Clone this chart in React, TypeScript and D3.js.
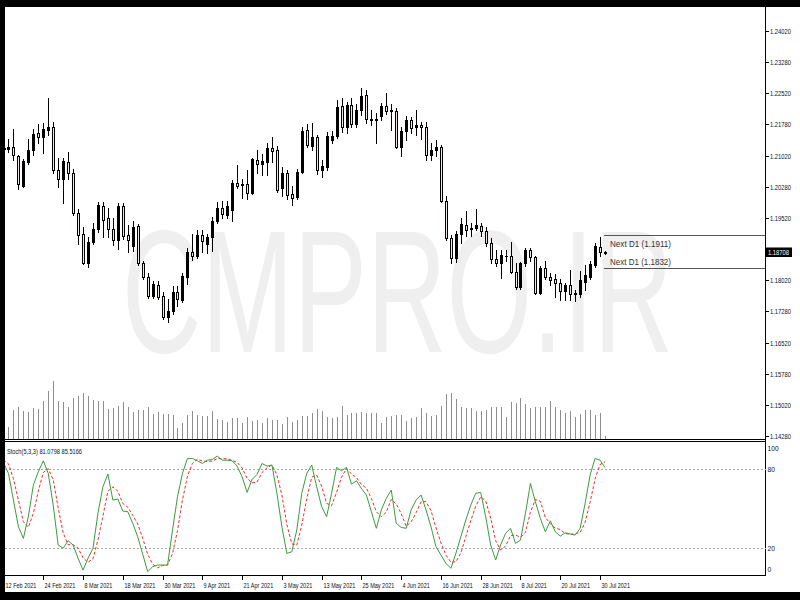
import React from 'react';
import * as d3 from 'd3';

const opens = [1.2121,1.2119,1.2124,1.2102,1.2030,1.2088,1.2116,1.2156,1.2146,1.2164,
1.2170,1.2068,1.2045,1.2088,1.2061,1.1965,1.1915,1.1843,1.1895,1.1927,
1.1981,1.1952,1.1925,1.1899,1.1980,1.1911,1.1885,1.1933,1.1845,1.1811,
1.1765,1.1790,1.1765,1.1715,1.1729,1.1774,1.1755,1.1811,1.1871,1.1862,
1.1911,1.1890,1.1906,1.1944,1.1976,1.1960,1.1971,1.2037,1.2032,1.2033,
1.2012,1.2092,1.2081,1.2088,1.2121,1.2116,1.2024,1.2061,1.2009,1.2002,
1.2064,1.2164,1.2126,1.2146,1.2068,1.2074,1.2140,1.2150,1.2222,1.2172,
1.2224,1.2178,1.2212,1.2248,1.2189,1.2189,1.2198,1.2222,1.2210,1.2210,
1.2124,1.2162,1.2188,1.2172,1.2175,1.2172,1.2104,1.2117,1.2124,1.1992,
1.1903,1.1855,1.1914,1.1935,1.1926,1.1929,1.1934,1.1921,1.1891,1.1853,
1.1845,1.1860,1.1861,1.1823,1.1786,1.1843,1.1875,1.1858,1.1773,1.1833,
1.1810,1.1805,1.1797,1.1777,1.1791,1.1770,1.1770,1.1799,1.1811,1.1840,
1.1883,1.1869];
const highs = [1.2150,1.2142,1.2166,1.2104,1.2093,1.2142,1.2166,1.2178,1.2180,1.2240,
1.2182,1.2096,1.2096,1.2112,1.2070,1.1975,1.1931,1.1907,1.1940,1.1990,
1.1990,1.1976,1.1952,1.1989,1.1989,1.1935,1.1945,1.1937,1.1850,1.1820,
1.1800,1.1800,1.1775,1.1758,1.1788,1.1788,1.1820,1.1880,1.1913,1.1924,
1.1924,1.1915,1.1954,1.1990,1.1994,1.1994,1.2044,1.2080,1.2046,1.2067,
1.2096,1.2116,1.2105,1.2133,1.2146,1.2125,1.2074,1.2067,1.2030,1.2069,
1.2172,1.2179,1.2181,1.2153,1.2092,1.2160,1.2162,1.2237,1.2240,1.2231,
1.2240,1.2226,1.2264,1.2260,1.2212,1.2204,1.2230,1.2252,1.2226,1.2216,
1.2170,1.2197,1.2194,1.2211,1.2182,1.2183,1.2132,1.2139,1.2128,1.2005,
1.1911,1.1920,1.1952,1.1970,1.1940,1.1975,1.1940,1.1930,1.1905,1.1875,
1.1875,1.1875,1.1895,1.1843,1.1847,1.1880,1.1880,1.1862,1.1838,1.1850,
1.1820,1.1817,1.1805,1.1795,1.1828,1.1780,1.1826,1.1840,1.1850,1.1892,
1.1907,1.1873];
const lows = [1.2093,1.2112,1.2092,1.2021,1.2028,1.2082,1.2104,1.2133,1.2108,1.2152,
1.2060,1.2026,1.1989,1.2045,1.1960,1.1890,1.1841,1.1834,1.1890,1.1918,
1.1907,1.1907,1.1887,1.1877,1.1901,1.1871,1.1873,1.1839,1.1805,1.1760,
1.1760,1.1757,1.1709,1.1702,1.1722,1.1740,1.1750,1.1793,1.1852,1.1855,
1.1870,1.1869,1.1874,1.1941,1.1953,1.1953,1.1945,1.2025,1.2000,1.1999,
1.2010,1.2060,1.2055,1.2055,1.2088,1.2014,1.2004,1.1999,1.1984,1.1999,
1.2060,1.2124,1.2115,1.2058,1.2052,1.2068,1.2132,1.2145,1.2160,1.2157,
1.2170,1.2170,1.2200,1.2180,1.2175,1.2132,1.2188,1.2203,1.2164,1.2120,
1.2102,1.2140,1.2156,1.2153,1.2142,1.2092,1.2092,1.2101,1.1990,1.1900,
1.1843,1.1846,1.1893,1.1910,1.1910,1.1923,1.1910,1.1885,1.1845,1.1837,
1.1807,1.1850,1.1820,1.1782,1.1781,1.1838,1.1850,1.1770,1.1770,1.1805,
1.1792,1.1763,1.1755,1.1755,1.1755,1.1752,1.1763,1.1780,1.1805,1.1835,
1.1860,1.1866];
const closes = [1.2119,1.2124,1.2104,1.2033,1.2089,1.2115,1.2154,1.2146,1.2166,1.2172,
1.2068,1.2045,1.2089,1.2061,1.1965,1.1911,1.1843,1.1895,1.1927,1.1984,
1.1947,1.1925,1.1899,1.1980,1.1908,1.1899,1.1931,1.1843,1.1810,1.1765,
1.1793,1.1763,1.1715,1.1729,1.1775,1.1758,1.1813,1.1871,1.1862,1.1911,
1.1898,1.1907,1.1946,1.1976,1.1962,1.1980,1.2037,1.2030,1.2035,1.2012,
1.2094,1.2082,1.2089,1.2121,1.2113,1.2020,1.2061,1.2008,1.2000,1.2064,
1.2162,1.2128,1.2146,1.2068,1.2077,1.2150,1.2150,1.2220,1.2172,1.2224,
1.2178,1.2212,1.2246,1.2190,1.2190,1.2190,1.2222,1.2210,1.2211,1.2124,
1.2162,1.2188,1.2168,1.2176,1.2172,1.2104,1.2117,1.2124,1.1992,1.1903,
1.1855,1.1914,1.1938,1.1923,1.1929,1.1935,1.1922,1.1891,1.1853,1.1845,
1.1863,1.1862,1.1823,1.1787,1.1843,1.1875,1.1858,1.1773,1.1833,1.1810,
1.1803,1.1795,1.1777,1.1791,1.1770,1.1771,1.1802,1.1815,1.1841,1.1884,
1.1870,1.18708];
const volumes = [28,17.6,43.5,47.6,42,40.5,46,44.6,56.6,71.6,
87,57.5,55,47.6,61.5,64.5,68.6,64.5,58,57,
56.6,44.6,46,49.5,56,48.5,40.5,43.5,43.5,47.6,
37,40,37.5,37.5,36,16,23.5,36,41.5,36,
34.5,34.5,42.5,30,28.5,26,31,32,24.5,33.5,
27.5,28.5,23.5,31,28.5,28.5,22.5,32.5,26,28.5,
34.5,34.5,38.5,44.6,42,32.5,31,32.5,49,36,
38.5,38.5,40,38.5,38.5,38.5,24.5,33.5,34.5,36,
36,27,31,32.5,46,39.5,34.5,36,49.5,67.5,
68.6,60,47.6,46,46,42.5,42.5,43.5,48.5,48.5,
48.5,32.5,55,53.5,61,52,46,47.6,48.5,48.5,
57,47.6,43.5,39.5,42.5,33.5,37.5,43.5,43.5,36,
38.5,4.5];
const stochK = [84.7,76.7,56.5,36.3,27.5,43.9,67.8,77.9,86.2,76.7,
52.7,22.5,20,25.7,22.5,12.4,3.5,12.4,20,46.5,
66.6,76.2,56.5,57.3,48.2,47.7,38.9,28.7,15.6,2.3,
6,7.3,7.3,7.3,33.8,59,76.7,88,88,86.2,
84.2,86.7,87.2,89.8,86.7,86.7,86.2,82.2,74.1,62.3,
72.1,75.9,84.2,82.2,83,61.6,36.3,16.1,17.4,33.8,
61.6,76.7,83,66.6,51.4,43.9,61.6,81.2,78.7,81.2,
68.6,71.1,65.3,60.3,47.7,35.1,49,57.8,64.1,38.9,
35.8,35.1,49,56.5,60.3,49,36.3,21.2,14.9,8.6,
4.8,16.1,28.7,41.4,52.7,61.6,62.3,43.9,22.5,11.1,
22.5,31.3,35.1,23.7,26.2,46.5,69.1,55.2,42.6,32.5,
40.8,32.5,29.2,31.8,30.8,30,35.1,54,75.4,88,
86.7,81.0798];
const stochD = [87,84,72.6,56.5,40.1,35.9,46.4,63.2,77.3,80.3,
71.9,50.6,31.7,22.7,22.7,20.2,12.8,9.4,12,26.3,
44.4,63.1,66.4,63.3,54,51.1,44.9,38.4,27.7,15.5,
8,5.2,6.9,7.3,16.1,33.4,56.5,74.6,84.2,87.4,
86.1,85.7,86,87.9,87.9,87.7,86.5,85,80.8,72.9,
69.5,70.1,77.4,80.8,83.1,75.6,60.3,38,23.3,22.4,
37.6,57.4,73.8,75.4,67,54,52.3,62.2,73.8,80.4,
76.2,73.6,68.3,65.6,57.8,47.7,43.9,47.3,57,53.6,
46.3,36.6,40,46.9,55.3,55.3,48.5,35.5,24.1,14.9,
9.4,9.8,16.5,28.7,40.9,51.9,58.9,55.9,42.9,25.8,
18.7,21.6,29.6,30,28.3,32.1,47.3,56.9,55.6,43.4,
38.6,35.3,34.2,31.2,30.6,30.9,32,39.7,54.8,72.5,
83.4,85.5166];
const dateTickIndex = [0,8,16,24,32,40,48,56,64,72,80,88,96,104,112,120];
const dateTickLabels = ['12 Feb 2021','24 Feb 2021','8 Mar 2021','18 Mar 2021','30 Mar 2021','9 Apr 2021','21 Apr 2021','3 May 2021','13 May 2021','25 May 2021','4 Jun 2021','16 Jun 2021','28 Jun 2021','8 Jul 2021','20 Jul 2021','30 Jul 2021'];
const priceTicks = [1.2402,1.2328,1.2252,1.2178,1.2102,1.2028,1.1952,1.1802,1.1728,1.1652,1.1578,1.1502,1.1428];
const stochTicks = [100,80,20,0];
const stochLevels = [80,20];
const nextD1 = [1.1911,1.1832];
const currentPrice = 1.18708;

const FONT = 'Liberation Sans, Arial, sans-serif';

export default function App() {
  const n = closes.length;
  const x = d3.scaleLinear().domain([0, 121]).range([3.5, 605]);
  const y = d3.scaleLinear().domain([1.1428, 1.2402]).range([436, 31]);
  const yVol = d3.scaleLinear().domain([0, 90]).range([439, 379]);
  const yS = d3.scaleLinear().domain([0, 100]).range([574.7, 442.6]);
  const fmt = d3.format('.5f');
  const idx = d3.range(n);

  const lineK = d3.line<number>().x((d, i) => x(i)).y(d => yS(d));
  const lineD = d3.line<number>().x((d, i) => x(i)).y(d => yS(d));

  const axisX = 765.5;

  return (
    <svg width={800} height={600} style={{ position: 'absolute', left: 0, top: 0 }}>
      <rect x={0} y={0} width={800} height={600} fill="#fff" />
      <text x={0} y={0} transform="translate(122,352) scale(0.63,1)" fontFamily="Liberation Sans, Arial, sans-serif"
        fontSize={175} fill="#efefef">CMPRO.IR</text>

      {/* volumes */}
      <g stroke="#8e8e8e" strokeWidth={1} shapeRendering="crispEdges">
        {idx.map(i => {
          const cx = Math.round(x(i)) + 0.5;
          return <line key={i} x1={cx} x2={cx} y1={439} y2={Math.round(yVol(volumes[i]))} />;
        })}
      </g>

      {/* candles */}
      <g shapeRendering="crispEdges">
        {idx.map(i => {
          const cx = Math.round(x(i));
          const o = opens[i], c = closes[i];
          const bull = c >= o;
          const top = Math.round(y(Math.max(o, c))) + 0.5;
          const bot = Math.round(y(Math.min(o, c))) + 0.5;
          const h = bot - top;
          return (
            <g key={i}>
              <line x1={cx + 0.5} x2={cx + 0.5} y1={Math.round(y(highs[i]))} y2={Math.round(y(lows[i])) + 1} stroke="#000" />
              {h >= 1 ? (
                <rect x={cx - 0.5} y={top} width={2} height={h} fill={bull ? '#000' : '#efe6e6'} stroke="#000" strokeWidth={1} />
              ) : (
                <line x1={cx - 1} x2={cx + 2} y1={top} y2={top} stroke="#000" />
              )}
            </g>
          );
        })}
      </g>

      {/* Next D1 lines */}
      <g>
        {nextD1.map((p, k) => (
          <line key={k} x1={604} x2={axisX} y1={Math.round(y(p)) + 0.5} y2={Math.round(y(p)) + 0.5}
            stroke="#555" strokeWidth={1} shapeRendering="crispEdges" />
        ))}
        <text x={610} y={y(nextD1[0]) + 12} fontFamily={FONT} fontSize={9.5} fill="#333"
          textLength={61} lengthAdjust="spacingAndGlyphs">{`Next D1 (${nextD1[0].toFixed(4)})`}</text>
        <text x={610} y={y(nextD1[1]) - 3} fontFamily={FONT} fontSize={9.5} fill="#333"
          textLength={61} lengthAdjust="spacingAndGlyphs">{`Next D1 (${nextD1[1].toFixed(4)})`}</text>
      </g>

      {/* panel separators & axis */}
      <g stroke="#000" strokeWidth={1} shapeRendering="crispEdges">
        <line x1={5} x2={axisX} y1={439.5} y2={439.5} />
        <line x1={5} x2={axisX} y1={441.5} y2={441.5} />
        <line x1={5} x2={axisX} y1={575.5} y2={575.5} />
        <line x1={axisX} x2={axisX} y1={7} y2={575.5} />
      </g>

      {/* price axis */}
      <g>
        {priceTicks.map((p, k) => (
          <g key={k}>
            <line x1={766} x2={769} y1={Math.round(y(p)) + 0.5} y2={Math.round(y(p)) + 0.5} stroke="#000" shapeRendering="crispEdges" />
            <text x={770} y={y(p) + 3} fontFamily={FONT} fontSize={7.5} fill="#111"
              textLength={21} lengthAdjust="spacingAndGlyphs">{fmt(p)}</text>
          </g>
        ))}
        <rect x={766} y={Math.round(y(currentPrice)) - 4.5} width={26} height={9.5} fill="#000" />
        <text x={768} y={y(currentPrice) + 3} fontFamily={FONT} fontSize={7.5} fill="#fff"
          textLength={21} lengthAdjust="spacingAndGlyphs">{fmt(currentPrice)}</text>
      </g>

      {/* stochastic */}
      <g>
        {stochLevels.map(l => (
          <line key={l} x1={5} x2={axisX} y1={Math.round(yS(l)) + 0.5} y2={Math.round(yS(l)) + 0.5}
            stroke="#a8a8a8" strokeDasharray="2,2" shapeRendering="crispEdges" />
        ))}
        <path d={lineD(stochD) || ''} fill="none" stroke="#e8302a" strokeWidth={1} strokeDasharray="3,2" />
        <path d={lineK(stochK) || ''} fill="none" stroke="#3f9a3f" strokeWidth={1} />
        <text x={7} y={454} fontFamily={FONT} fontSize={8} fill="#111" textLength={75} lengthAdjust="spacingAndGlyphs">
          {`Stoch(5,3,3) ${stochK[n - 1].toFixed(4)} ${stochD[n - 1].toFixed(4)}`}
        </text>
        {stochTicks.map(t => {
          const ty = t === 100 ? yS(t) + 8 : t === 0 ? yS(t) - 3 : yS(t) + 3;
          const s = String(t);
          return (
            <text key={t} x={767.5} y={ty} fontFamily={FONT} fontSize={8} fill="#111"
              textLength={s.length * 3.7} lengthAdjust="spacingAndGlyphs">{s}</text>
          );
        })}
      </g>

      {/* date axis */}
      <g>
        {dateTickIndex.map((ti, k) => {
          const tx = Math.round(x(ti)) + 0.5;
          const lab = dateTickLabels[k];
          return (
            <g key={k}>
              <line x1={tx} x2={tx} y1={575} y2={579.5} stroke="#000" shapeRendering="crispEdges" />
              <text x={0} y={0} transform={`translate(${tx + 1},588) scale(0.69,1)`} fontFamily={FONT}
                fontSize={8} fill="#111">{lab}</text>
            </g>
          );
        })}
      </g>

      {/* outer black frame */}
      <rect x={0} y={0} width={800} height={7} fill="#000" />
      <rect x={0} y={0} width={5} height={600} fill="#000" />
      <rect x={0} y={592} width={800} height={8} fill="#000" />
    </svg>
  );
}
